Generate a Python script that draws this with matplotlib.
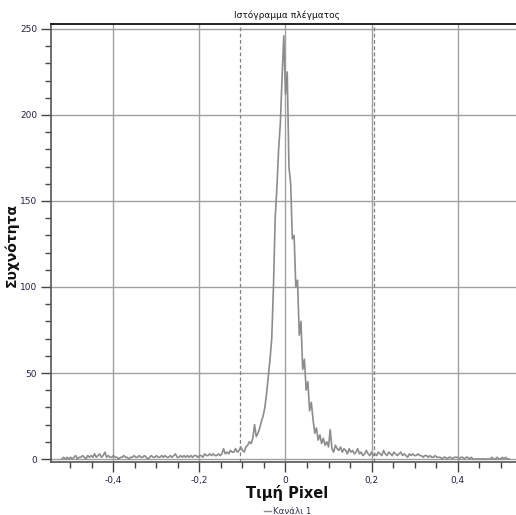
import numpy as np
import matplotlib
matplotlib.use("Agg")
import matplotlib.pyplot as plt
from matplotlib.ticker import MultipleLocator, FuncFormatter
from matplotlib.lines import Line2D

plt.rcParams['font.family'] = ['DejaVu Sans']

title = "Ιστόγραμμα πλέγματος"
xlabel = "Τιμή Pixel"
ylabel = "Συχνότητα"
legend_label = "Κανάλι 1"

bin_step = 0.004
# histogram counts by segment (start value of each segment)
seg_a_start = -0.520
seg_a = [0, 1, 0, 1, 0, 1, 0, 1, 2, 0, 1, 1, 2, 1, 0, 2, 1, 2, 1, 3,
         1, 2, 3, 1, 2, 4, 1, 2, 1, 1, 2, 1, 1, 0, 1, 1, 2, 1, 1, 0,
         1, 1, 2, 1, 1, 2, 1, 1, 2, 1, 0, 1, 2, 1, 1, 2]
seg_b_start = -0.296
seg_b = [1, 1, 2, 1, 2, 1, 1, 2, 1, 2, 3, 1, 1, 2, 1, 2, 1, 2, 1, 2,
         1, 2, 2, 1, 2, 2, 1, 3, 2, 2, 3, 2, 3, 2, 2, 3, 2]
seg_c_start = -0.148
seg_c = [3, 6, 3, 4, 3, 5, 4, 4, 6, 4, 5, 7, 5, 4, 7, 8, 10, 9, 12, 20,
         13, 15]
seg_d_start = -0.060
seg_d = [18, 22, 25, 30, 38, 48, 58, 70, 100, 140, 158, 180, 195, 222, 246,
         212, 225, 170, 160, 128, 130, 100, 104, 72, 80, 52, 58, 40, 45, 28, 33]
seg_e_start = 0.064
seg_e = [23, 15, 18, 11, 14, 9, 12, 8, 10, 7, 17, 6, 4, 8, 6, 5, 7, 4, 6, 5,
         3, 6, 4, 5, 3, 4, 6, 3, 4, 2, 3, 5, 3, 2, 4]
seg_f_start = 0.204
seg_f = [2, 3, 2, 4, 3, 2, 5, 3, 2, 4, 3, 2, 4, 3, 2, 3, 4, 2, 3, 2,
         1, 3, 2, 3, 2, 2, 3, 2, 2, 1, 2, 2, 1, 2, 1, 1, 2, 1, 1, 1,
         0, 1, 1, 0, 1, 1, 0, 1, 1, 1, 0, 1, 1, 0, 1, 1, 0, 1, 0, 0,
         0, 0, 0, 0, 0, 0, 0, 0, 0, 1, 0, 0, 1, 0, 0, 1, 0, 1, 0, 0]

threshold_lines = [-0.106, 0.206]
x_major = 0.2
x_minor = 0.05
y_major = 50
y_minor = 10

segments = [(seg_a_start, seg_a), (seg_b_start, seg_b), (seg_c_start, seg_c),
            (seg_d_start, seg_d), (seg_e_start, seg_e), (seg_f_start, seg_f)]
xs, ys = [], []
for s, vals in segments:
    xs.extend(s + bin_step * np.arange(len(vals)))
    ys.extend(vals)

fig = plt.figure(figsize=(5.16, 5.15), dpi=100)
ax = fig.add_axes([51/516, 53/515, 465/516, 438/515])

ax.grid(True, which='major', color='#a0a0a0', linewidth=1.0)
ax.set_axisbelow(True)
for xv in threshold_lines:
    ax.axvline(xv, color='#808080', linestyle=(0, (3, 2)), linewidth=0.9, zorder=2)

ax.plot(xs, ys, color='#8c8c8c', linewidth=1.2, zorder=3)

ax.set_xlim(-0.5453, 0.536)
ax.set_ylim(-1.74, 252.9)

ax.xaxis.set_major_locator(MultipleLocator(x_major))
ax.xaxis.set_minor_locator(MultipleLocator(x_minor))
ax.yaxis.set_major_locator(MultipleLocator(y_major))
ax.yaxis.set_minor_locator(MultipleLocator(y_minor))

def fmt(v, pos):
    if abs(v) < 1e-9:
        return "0"
    return ("%.1f" % v).replace('.', ',')

ax.xaxis.set_major_formatter(FuncFormatter(fmt))
ax.yaxis.set_major_formatter(FuncFormatter(lambda v, p: "%d" % round(v)))

ax.tick_params(axis='both', which='major', length=7, width=1.0, color='#444444',
               labelsize=6.5, labelcolor='#222244', pad=3)
ax.tick_params(axis='both', which='minor', length=4, width=1.0, color='#444444')

ax.spines['right'].set_visible(False)
ax.spines['top'].set_color('#111111')
ax.spines['top'].set_linewidth(1.3)
ax.spines['left'].set_color('#555555')
ax.spines['bottom'].set_color('#555555')
ax.spines['left'].set_linewidth(1.2)
ax.spines['bottom'].set_linewidth(1.2)

fig.text(287/516, 1 - 15/515, title, ha='center', va='center', fontsize=6.5, color='#111111')
fig.text(287/516, 1 - 493/515, xlabel, ha='center', va='center', fontsize=10.5,
         fontweight='bold', color='#111111')
fig.text(12/516, 1 - 245/515, ylabel, ha='center', va='center', fontsize=10,
         fontweight='bold', rotation=90, color='#111111')

# legend
fig.add_artist(Line2D([264/516, 271/516], [1 - 511/515, 1 - 511/515],
                      color='#8c8c8c', linewidth=1.0))
fig.text(273/516, 1 - 511/515, legend_label, ha='left', va='center', fontsize=6.2,
         color='#333355')

fig.savefig("out.png", dpi=100)
